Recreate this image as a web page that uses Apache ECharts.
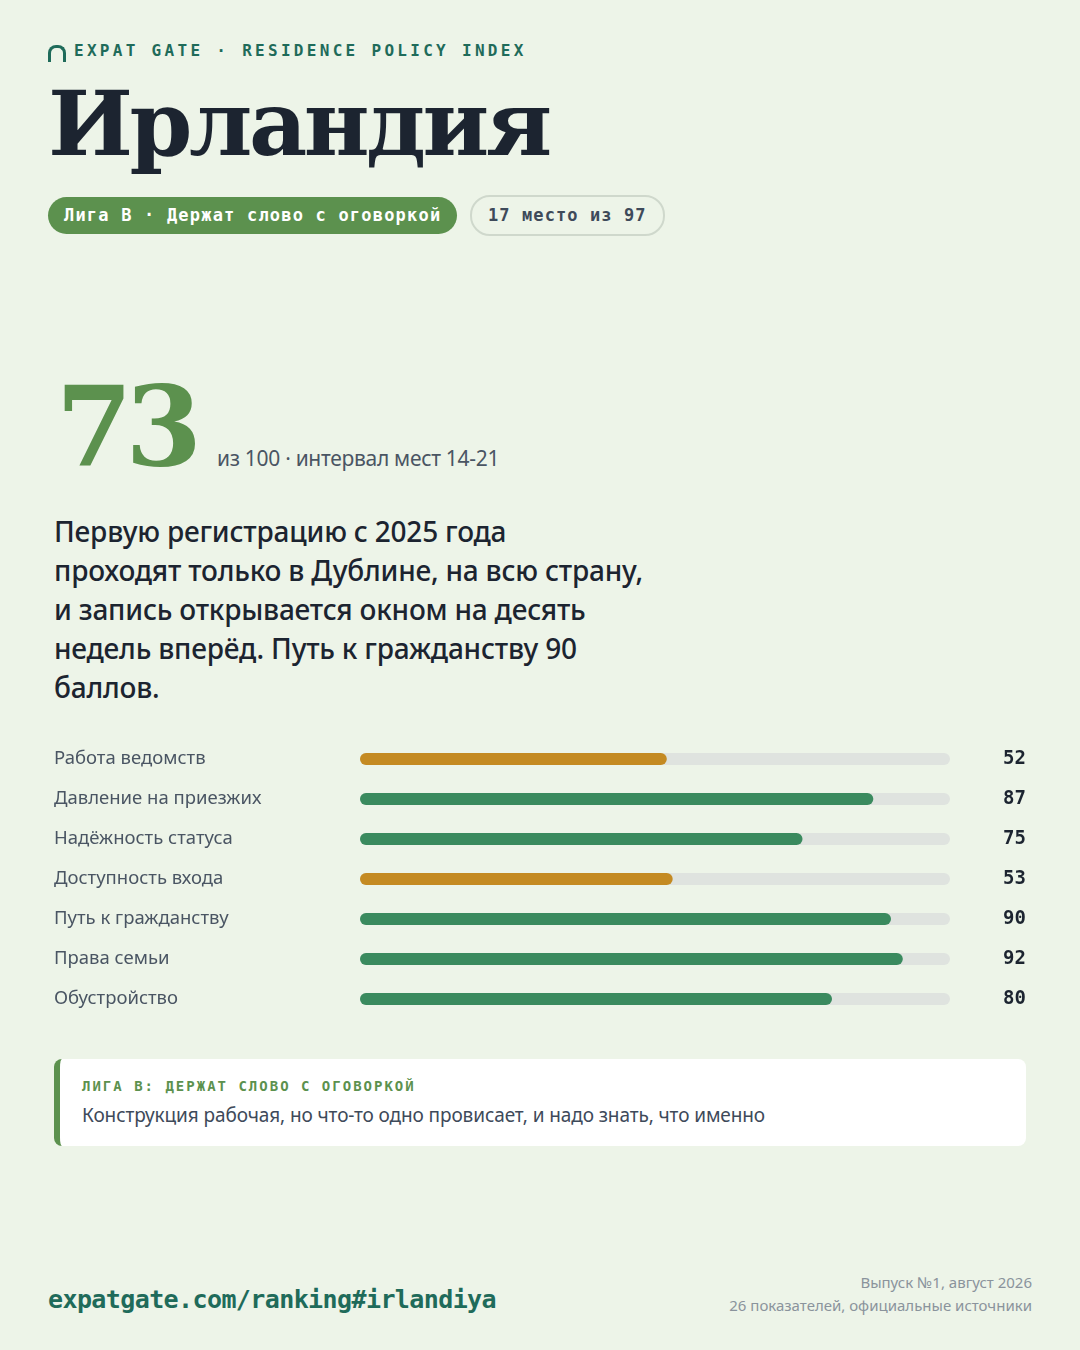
<!DOCTYPE html>
<html><head><meta charset="utf-8">
<script src="https://cdn.jsdelivr.net/npm/echarts@6/dist/echarts.min.js"></script>
<style>
body{margin:0;width:1080px;height:1350px;background:#edf4e8;position:relative;font-family:"Noto Sans",sans-serif;overflow:hidden}
.abs{position:absolute}
.mono{font-family:"DejaVu Sans Mono",monospace;font-weight:bold}
</style></head><body>
<div class="abs mono" style="left:48px;top:41px;font-size:16px;letter-spacing:3.3px;color:#1f6b5a">
<span style="display:inline-block;width:12px;height:14px;border:3px solid #1f6b5a;border-bottom:none;border-radius:8px 8px 0 0;vertical-align:-6px;margin-right:8px"></span>EXPAT GATE · RESIDENCE POLICY INDEX</div>
<div class="abs" style="left:48px;top:70px;font-family:'DejaVu Serif',serif;font-weight:bold;font-size:90px;color:#1c2430;letter-spacing:-3.5px">Ирландия</div>
<div class="abs mono" style="left:48px;top:197px;height:37px;line-height:37px;padding:0 16px;background:#5c914e;color:#fff;border-radius:19px;font-size:17px;letter-spacing:1.2px">Лига B · Держат слово с оговоркой</div>
<div class="abs mono" style="left:470px;top:195px;height:37px;line-height:37px;padding:0 16px;border:2px solid #cfd8cc;color:#3e4a5a;border-radius:20px;font-size:17px;letter-spacing:1.1px">17 место из 97</div>
<div class="abs" style="left:56px;top:362px;font-family:'DejaVu Serif',serif;font-weight:bold;font-size:110px;color:#5c914e;letter-spacing:-7px">73</div>
<div class="abs" style="left:217px;top:444px;font-size:21px;color:#4a5563;letter-spacing:-0.3px">из 100 · интервал мест 14-21</div>
<div class="abs" style="left:54px;top:512px;width:700px;font-size:28px;line-height:39px;font-weight:500;color:#1c2430;white-space:nowrap;letter-spacing:-0.2px">Первую регистрацию с 2025 года<br>проходят только в Дублине, на всю страну,<br>и запись открывается окном на десять<br>недель вперёд. Путь к гражданству 90<br>баллов.</div>
<div id="chart" class="abs" style="left:54px;top:739px;width:972px;height:280px"></div>
<div class="abs" style="left:54px;top:1059px;width:966px;height:87px;background:#fff;border-radius:8px;border-left:6px solid #5c914e">
<div class="mono" style="position:absolute;left:22px;top:19px;font-size:14px;letter-spacing:2px;color:#5c914e">ЛИГА B: ДЕРЖАТ СЛОВО С ОГОВОРКОЙ</div>
<div style="position:absolute;left:22px;top:43px;font-size:19px;color:#3e4a5a;letter-spacing:-0.1px">Конструкция рабочая, но что-то одно провисает, и надо знать, что именно</div>
</div>
<div class="abs mono" style="left:48px;top:1285px;font-size:25px;color:#1f6b5a;letter-spacing:-0.6px">expatgate.com/ranking#irlandiya</div>
<div class="abs" style="right:48px;top:1271px;text-align:right;font-size:15px;line-height:23px;color:#8a939c">Выпуск №1, август 2026<br>26 показателей, официальные источники</div>
<script>
const categories = ['Работа ведомств','Давление на приезжих','Надёжность статуса','Доступность входа','Путь к гражданству','Права семьи','Обустройство'];
const values = [52,87,75,53,90,92,80];
const warnBelow = 60;
const chart = echarts.init(document.getElementById('chart'));
chart.setOption({
  grid:{left:306,right:76,top:0,bottom:0,containLabel:false,outerBoundsMode:'none'},
  xAxis:{type:'value',min:0,max:100,show:false},
  yAxis:[
    {type:'category',data:categories,inverse:true,axisLine:{show:false},axisTick:{show:false},
     axisLabel:{align:'left',margin:306,fontSize:18.5,color:'#4a5563',fontFamily:'Noto Sans'}},
    {type:'category',data:values.map(String),inverse:true,position:'right',axisLine:{show:false},axisTick:{show:false},
     axisLabel:{align:'right',margin:76,fontSize:19,fontWeight:'bold',color:'#1c2430',fontFamily:'DejaVu Sans Mono'}}
  ],
  series:[{type:'bar',data:values.map(v=>({value:v,itemStyle:{color:v<warnBelow?'#c48a22':'#3a8a5e'}})),
    barWidth:12,showBackground:true,backgroundStyle:{color:'#dfe3df',borderRadius:6},itemStyle:{borderRadius:6}}]
});
</script>
</body></html>
